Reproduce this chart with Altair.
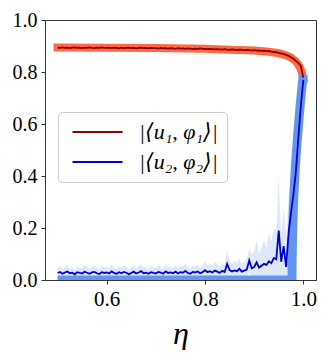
import altair as alt
import pandas as pd

# ---- data ----
eta = [
    0.500, 0.505, 0.510, 0.515, 0.520, 0.525, 0.530, 0.535, 0.540, 0.545,
    0.550, 0.555, 0.560, 0.565, 0.570, 0.575, 0.580, 0.585, 0.590, 0.595,
    0.600, 0.605, 0.610, 0.615, 0.620, 0.625, 0.630, 0.635, 0.640, 0.645,
    0.650, 0.655, 0.660, 0.665, 0.670, 0.675, 0.680, 0.685, 0.690, 0.695,
    0.700, 0.705, 0.710, 0.715, 0.720, 0.725, 0.730, 0.735, 0.740, 0.745,
    0.750, 0.755, 0.760, 0.765, 0.770, 0.775, 0.780, 0.785, 0.790, 0.795,
    0.800, 0.805, 0.810, 0.815, 0.820, 0.825, 0.830, 0.835, 0.840, 0.845,
    0.850, 0.855, 0.860, 0.865, 0.870, 0.875, 0.880, 0.885, 0.890, 0.895,
    0.900, 0.905, 0.910, 0.915, 0.920, 0.925, 0.930, 0.935, 0.940, 0.945,
    0.950, 0.955, 0.960, 0.965, 0.970, 0.975, 0.980, 0.985, 0.990, 0.995,
    1.000,
]

red_mean = [
    0.894, 0.893, 0.895, 0.893, 0.894, 0.892, 0.894, 0.895, 0.893, 0.894,
    0.892, 0.894, 0.893, 0.895, 0.893, 0.892, 0.894, 0.893, 0.895, 0.893,
    0.893, 0.894, 0.892, 0.894, 0.893, 0.891, 0.894, 0.892, 0.893, 0.894,
    0.892, 0.893, 0.891, 0.893, 0.894, 0.892, 0.893, 0.891, 0.893, 0.892,
    0.892, 0.890, 0.893, 0.891, 0.892, 0.890, 0.892, 0.891, 0.889, 0.892,
    0.890, 0.891, 0.889, 0.891, 0.890, 0.888, 0.890, 0.889, 0.891, 0.889,
    0.889, 0.888, 0.889, 0.888, 0.887, 0.888, 0.887, 0.886, 0.888, 0.886,
    0.885, 0.887, 0.886, 0.884, 0.886, 0.885, 0.883, 0.885, 0.884, 0.882,
    0.884, 0.882, 0.883, 0.881, 0.882, 0.880, 0.881, 0.878, 0.877, 0.876,
    0.874, 0.872, 0.869, 0.866, 0.862, 0.857, 0.851, 0.843, 0.834, 0.823,
    0.778,
]

blue_mean = [
    0.027, 0.031, 0.024, 0.029, 0.033, 0.026, 0.028, 0.022, 0.030, 0.027,
    0.025, 0.032, 0.028, 0.024, 0.029, 0.031, 0.026, 0.023, 0.030, 0.027,
    0.029, 0.025, 0.033, 0.027, 0.024, 0.030, 0.026, 0.031, 0.028, 0.022,
    0.027, 0.032, 0.025, 0.029, 0.034, 0.026, 0.028, 0.024, 0.030, 0.027,
    0.025, 0.031, 0.028, 0.024, 0.033, 0.027, 0.029, 0.026, 0.032, 0.025,
    0.030, 0.028, 0.035, 0.027, 0.024, 0.031, 0.029, 0.033, 0.026, 0.030,
    0.038, 0.030, 0.034, 0.029, 0.036, 0.032, 0.027, 0.035, 0.031, 0.062,
    0.038, 0.033, 0.037, 0.034, 0.043, 0.032, 0.036, 0.040, 0.075, 0.045,
    0.050, 0.068, 0.048, 0.055, 0.062, 0.058, 0.072, 0.065, 0.085, 0.080,
    0.190, 0.070, 0.130, 0.050, 0.180, 0.260, 0.330, 0.420, 0.550, 0.670,
    0.770,
]

blue_std = [
    0.020, 0.025, 0.018, 0.022, 0.028, 0.019, 0.021, 0.017, 0.024, 0.020,
    0.018, 0.026, 0.021, 0.019, 0.023, 0.027, 0.020, 0.018, 0.024, 0.021,
    0.022, 0.019, 0.027, 0.020, 0.018, 0.024, 0.021, 0.025, 0.022, 0.017,
    0.021, 0.026, 0.019, 0.023, 0.028, 0.020, 0.022, 0.018, 0.024, 0.021,
    0.020, 0.025, 0.022, 0.019, 0.027, 0.021, 0.023, 0.020, 0.026, 0.019,
    0.024, 0.022, 0.029, 0.021, 0.019, 0.025, 0.023, 0.027, 0.020, 0.024,
    0.035, 0.026, 0.030, 0.025, 0.033, 0.028, 0.024, 0.032, 0.027, 0.050,
    0.034, 0.029, 0.036, 0.031, 0.042, 0.030, 0.035, 0.040, 0.045, 0.055,
    0.060, 0.085, 0.055, 0.070, 0.090, 0.065, 0.110, 0.080, 0.120, 0.100,
    0.210, 0.090, 0.150, 0.110, 0.140, 0.160, 0.150, 0.120, 0.090, 0.060,
    0.020,
]

red_th_eta = [0.5, 0.6, 0.7, 0.8, 0.85, 0.9, 0.93, 0.95, 0.96, 0.97,
              0.975, 0.98, 0.985, 0.99, 0.993, 0.996, 0.998, 1.0]
red_th_val = [0.894, 0.893, 0.892, 0.889, 0.886, 0.883, 0.878, 0.872, 0.867, 0.860,
              0.855, 0.848, 0.840, 0.828, 0.818, 0.804, 0.790, 0.772]

blue_th_eta = [0.5, 0.977, 0.9772, 0.978, 0.979, 0.980, 0.982, 0.984,
               0.987, 0.990, 0.993, 0.996, 1.0]
blue_th_val = [0.0, 0.0, 0.07, 0.16, 0.23, 0.29, 0.37, 0.44,
               0.52, 0.59, 0.66, 0.72, 0.79]

series_names = ["|⟨u₁, φ₁⟩|", "|⟨u₂, φ₂⟩|"]
series_colors = ["#8B0000", "#0000CD"]

SERIF = "Liberation Serif, DejaVu Serif, serif"

# ---- tables ----
df_fill = pd.DataFrame({
    "eta": eta,
    "val": [max(0.0, m - s) for m, s in zip(blue_mean, blue_std)],
    "hi": [m + s for m, s in zip(blue_mean, blue_std)],
})
df_lines = pd.concat([
    pd.DataFrame({"eta": eta, "val": red_mean, "series": series_names[0]}),
    pd.DataFrame({"eta": eta, "val": blue_mean, "series": series_names[1]}),
])
df_red_th = pd.DataFrame({"eta": red_th_eta, "val": red_th_val})
df_blue_th = pd.DataFrame({"eta": blue_th_eta, "val": blue_th_val})

xscale = alt.Scale(domain=[0.4745, 1.0258], nice=False, zero=False)
yscale = alt.Scale(domain=[0, 1], nice=False)
xenc = alt.X("eta:Q", scale=xscale,
             axis=alt.Axis(values=[0.6, 0.8, 1.0], format=".1f", title="η",
                           labelFontSize=21,
                           titleFont=SERIF, titleFontStyle="italic",
                           titleFontWeight="normal", titleFontSize=32,
                           titlePadding=9, titleColor="black"))
yenc = alt.Y("val:Q", scale=yscale,
             axis=alt.Axis(values=[0, 0.2, 0.4, 0.6, 0.8, 1.0], format=".1f",
                           title=None, labelFontSize=20))

red_band = alt.Chart(df_red_th).mark_line(
    color="#FF6A45", strokeWidth=8, strokeCap="square", clip=True
).encode(x=xenc, y=yenc)

blue_fill = alt.Chart(df_fill).mark_area(
    color="#6495ED", opacity=0.22, clip=True
).encode(x=xenc, y=yenc, y2="hi:Q")

blue_band = alt.Chart(df_blue_th).mark_line(
    color="#6495ED", strokeWidth=9, strokeCap="butt", clip=True
).encode(x=xenc, y=yenc)

lines = alt.Chart(df_lines).mark_line(strokeWidth=1.8, clip=True).encode(
    x=xenc, y=yenc,
    color=alt.Color("series:N",
                    scale=alt.Scale(domain=series_names, range=series_colors),
                    legend=alt.Legend(
                        orient="none", legendX=13, legendY=92, title=None,
                        symbolType="M-1.1,0H8.9", symbolSize=100, symbolStrokeWidth=2,
                        labelFont=SERIF, labelFontSize=22, labelFontStyle="italic",
                        labelColor="black",
                        labelOffset=50, padding=9, rowPadding=8,
                        cornerRadius=4, strokeColor="#cccccc", fillColor="white",
                        labelLimit=300)),
    detail="series:N",
)

chart = alt.layer(red_band, blue_fill, blue_band, lines).properties(
    width=271, height=260, autosize="none",
    padding={"left": 37, "top": 12, "right": 3, "bottom": 70},
).configure_view(stroke="#333333", strokeWidth=1).configure_axis(
    domainColor="#333333", tickColor="#333333", domainWidth=1, tickWidth=1,
    tickSize=4, grid=False, labelFont=SERIF,
    labelColor="black", labelPadding=4,
)

chart.save("out.html", embed_options={"renderer": "svg", "actions": False})
